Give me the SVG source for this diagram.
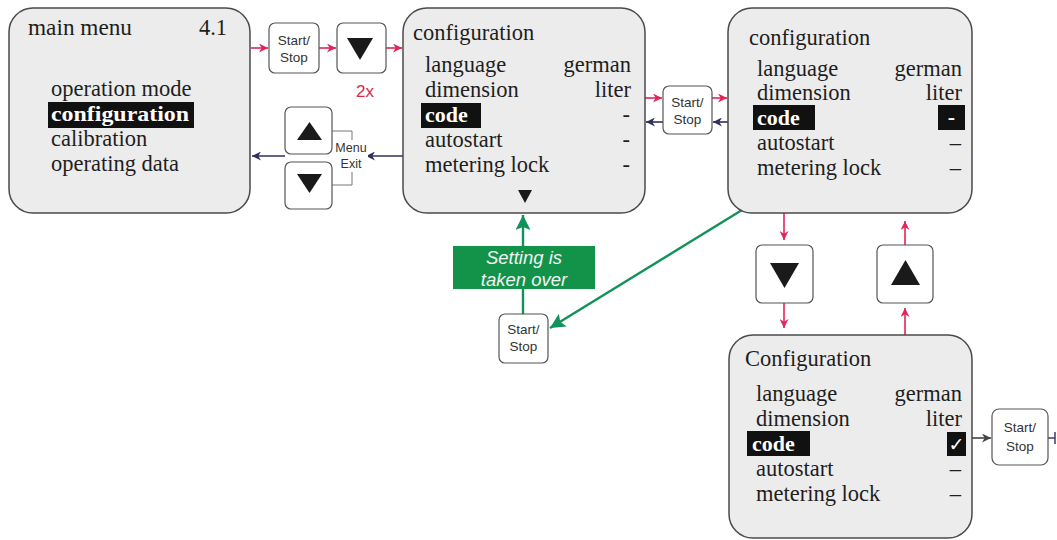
<svg xmlns="http://www.w3.org/2000/svg" width="1057" height="540" viewBox="0 0 1057 540">
<style>
.scr{fill:#ececec;stroke:#4a4a4a;stroke-width:1.5}
.btn{fill:#fff;stroke:#555;stroke-width:1.2}
.t{font-family:"Liberation Serif",serif;font-size:22.5px;fill:#1e1e1e}
.tb{font-family:"Liberation Serif",serif;font-size:22px;font-weight:bold;fill:#fff}
.bt{font-family:"Liberation Sans",Arial,sans-serif;font-size:13.5px;fill:#333;text-anchor:middle}
.me{font-family:"Liberation Sans",Arial,sans-serif;font-size:12.5px;fill:#333;text-anchor:middle}
.r{stroke:#e3245a;stroke-width:1.6;fill:none}
.n{stroke:#2f2f5c;stroke-width:1.6;fill:none}
.g{stroke:#11925a;stroke-width:2.4;fill:none}
.end{text-anchor:end}
</style>
<defs>
<marker id="ar" viewBox="0 0 10 10" refX="10" refY="5" markerWidth="12" markerHeight="9" markerUnits="userSpaceOnUse" orient="auto"><path d="M0,0 L10,5 L0,10 L3,5 z" fill="#e3245a"/></marker>
<marker id="an" viewBox="0 0 10 10" refX="10" refY="5" markerWidth="12" markerHeight="9" markerUnits="userSpaceOnUse" orient="auto"><path d="M0,0 L10,5 L0,10 L3,5 z" fill="#2f2f5c"/></marker>
<marker id="ak" viewBox="0 0 10 10" refX="10" refY="5" markerWidth="12" markerHeight="9" markerUnits="userSpaceOnUse" orient="auto"><path d="M0,0 L10,5 L0,10 L3,5 z" fill="#444"/></marker>
<marker id="ag" viewBox="0 0 10 10" refX="10" refY="5" markerWidth="18" markerHeight="15" markerUnits="userSpaceOnUse" orient="auto"><path d="M0,0 L10,5 L0,10 L2,5 z" fill="#11925a"/></marker>
</defs>

<g id="connectors">
<line class="r" x1="251" y1="48" x2="268" y2="48" marker-end="url(#ar)"/>
<line class="r" x1="319" y1="48" x2="336" y2="48" marker-end="url(#ar)"/>
<line class="r" x1="386" y1="48" x2="402" y2="48" marker-end="url(#ar)"/>
<line class="n" x1="403" y1="156" x2="366" y2="156" marker-end="url(#an)"/>
<line class="n" x1="285" y1="156" x2="252" y2="156" marker-end="url(#an)"/>
<polyline points="332,131 352,131 352,185 332,185" fill="none" stroke="#777" stroke-width="1"/>
<line class="r" x1="645" y1="98" x2="662" y2="98" marker-end="url(#ar)"/>
<line class="r" x1="712" y1="98" x2="727" y2="98" marker-end="url(#ar)"/>
<line class="n" x1="663" y1="122" x2="646" y2="122" marker-end="url(#an)"/>
<line class="n" x1="728" y1="122" x2="713" y2="122" marker-end="url(#an)"/>
<line class="r" x1="784" y1="213" x2="784" y2="240" marker-end="url(#ar)"/>
<line class="r" x1="784" y1="303" x2="784" y2="328" marker-end="url(#ar)"/>
<line class="r" x1="905" y1="335" x2="905" y2="308" marker-end="url(#ar)"/>
<line class="r" x1="905" y1="245" x2="905" y2="221" marker-end="url(#ar)"/>
<line x1="972" y1="438" x2="991" y2="438" stroke="#444" stroke-width="1.6" marker-end="url(#ak)"/>
<line x1="1048" y1="438" x2="1055" y2="438" stroke="#2f2f5c" stroke-width="1.4"/>
<line x1="1055" y1="432" x2="1055" y2="444" stroke="#2f2f5c" stroke-width="1.4"/>
<line class="g" x1="523" y1="314" x2="523" y2="215" marker-end="url(#ag)"/>
<line class="g" x1="742" y1="210" x2="550" y2="328" marker-end="url(#ag)"/>
</g>

<g id="main-menu">
<rect class="scr" x="9" y="8" width="241" height="205" rx="24"/>
<text class="t" x="28" y="35" font-size="23.5" textLength="104" lengthAdjust="spacingAndGlyphs">main menu</text>
<text class="t end" x="227" y="35">4.1</text>
<text class="t" x="51" y="96">operation mode</text>
<rect x="48" y="102" width="146" height="26" fill="#111"/>
<text class="tb" x="51" y="121" textLength="138" lengthAdjust="spacingAndGlyphs">configuration</text>
<text class="t" x="51" y="146">calibration</text>
<text class="t" x="51" y="171">operating data</text>
</g>

<g id="btn-start1">
<rect class="btn" x="269" y="23" width="50" height="50" rx="6"/>
<text class="bt" x="294" y="45">Start/</text>
<text class="bt" x="294" y="62">Stop</text>
</g>

<g id="btn-down1">
<rect class="btn" x="337" y="23" width="49" height="50" rx="6"/>
<path d="M347,38 L373,38 L360,60 z" fill="#1a1a1a"/>
<text x="365" y="97" font-family="Liberation Sans,Arial,sans-serif" font-size="17" fill="#d42a4a" text-anchor="middle">2x</text>
</g>

<g id="menu-exit">
<rect class="btn" x="285" y="107" width="47" height="47" rx="6"/>
<path d="M297,140 L322,140 L309.5,122 z" fill="#1a1a1a"/>
<rect class="btn" x="285" y="162" width="47" height="47" rx="6"/>
<path d="M297,174 L322,174 L309.5,193 z" fill="#1a1a1a"/>
<rect x="335" y="140" width="33" height="32" fill="#fff"/>
<text class="me" x="351" y="152">Menu</text>
<text class="me" x="351" y="168">Exit</text>
</g>

<g id="config-1">
<rect class="scr" x="403" y="8" width="242" height="205" rx="24"/>
<text class="t" x="413" y="40">configuration</text>
<text class="t" x="425" y="72">language</text>
<text class="t end" x="631" y="72">german</text>
<text class="t" x="425" y="97">dimension</text>
<text class="t end" x="631" y="97">liter</text>
<rect x="421" y="103" width="60" height="25" fill="#111"/>
<text class="tb" x="425" y="122">code</text>
<text class="t end" x="630" y="122">-</text>
<text class="t" x="425" y="147">autostart</text>
<text class="t end" x="630" y="147">-</text>
<text class="t" x="425" y="172">metering lock</text>
<text class="t end" x="630" y="172">-</text>
<path d="M518,190 L532,190 L525,203 z" fill="#1a1a1a"/>
</g>

<g id="btn-start2">
<rect class="btn" x="663" y="86" width="49" height="48" rx="6"/>
<text class="bt" x="687.5" y="107" font-size="14.5">Start/</text>
<text class="bt" x="687.5" y="124" font-size="14.5">Stop</text>
</g>

<g id="config-2">
<rect class="scr" x="728" y="8" width="244" height="205" rx="24"/>
<text class="t" x="749" y="45">configuration</text>
<text class="t" x="757" y="76">language</text>
<text class="t end" x="962" y="76">german</text>
<text class="t" x="757" y="100">dimension</text>
<text class="t end" x="962" y="100">liter</text>
<rect x="753" y="105" width="62" height="25" fill="#111"/>
<text class="tb" x="757" y="125">code</text>
<rect x="938" y="105" width="27" height="25" fill="#111"/>
<text class="tb" x="951.5" y="124" text-anchor="middle">-</text>
<text class="t end" x="961" y="150">–</text>
<text class="t" x="757" y="150">autostart</text>
<text class="t" x="757" y="175">metering lock</text>
<text class="t end" x="961" y="175">–</text>
</g>

<g id="btn-down2">
<rect class="btn" x="756" y="245" width="57" height="58" rx="6"/>
<path d="M770,263 L799,263 L784.5,288 z" fill="#1a1a1a"/>
</g>

<g id="btn-up2">
<rect class="btn" x="877" y="245" width="56" height="58" rx="6"/>
<path d="M891,285 L920,285 L905.5,260 z" fill="#1a1a1a"/>
</g>

<g id="config-3">
<rect class="scr" x="729" y="335" width="243" height="203" rx="24"/>
<text class="t" x="745" y="366">Configuration</text>
<text class="t" x="756" y="401">language</text>
<text class="t end" x="962" y="401">german</text>
<text class="t" x="756" y="426">dimension</text>
<text class="t end" x="962" y="426">liter</text>
<rect x="747" y="431" width="63" height="25" fill="#111"/>
<text class="tb" x="752" y="451">code</text>
<rect x="947" y="432" width="19" height="24" fill="#111"/>
<text x="956.5" y="451" font-family="DejaVu Sans,sans-serif" font-size="19" font-weight="bold" fill="#fff" text-anchor="middle">✓</text>
<text class="t" x="756" y="476">autostart</text>
<text class="t end" x="961" y="476">–</text>
<text class="t" x="756" y="501">metering lock</text>
<text class="t end" x="961" y="501">–</text>
</g>

<g id="btn-start3">
<rect class="btn" x="992" y="409" width="56" height="56" rx="7"/>
<text class="bt" x="1020" y="432" font-size="15">Start/</text>
<text class="bt" x="1020" y="451" font-size="15">Stop</text>
</g>

<g id="setting-label">
<rect x="453" y="246" width="142" height="43" fill="#13924a"/>
<text x="524" y="264" font-family="Liberation Sans,Arial,sans-serif" font-size="18.5" font-style="italic" fill="#f2f2f2" text-anchor="middle">Setting is</text>
<text x="524" y="286" font-family="Liberation Sans,Arial,sans-serif" font-size="18.5" font-style="italic" fill="#f2f2f2" text-anchor="middle">taken over</text>
</g>

<g id="btn-start4">
<rect class="btn" x="499" y="314" width="49" height="49" rx="6"/>
<text class="bt" x="523.5" y="334">Start/</text>
<text class="bt" x="523.5" y="351">Stop</text>
</g>
</svg>
